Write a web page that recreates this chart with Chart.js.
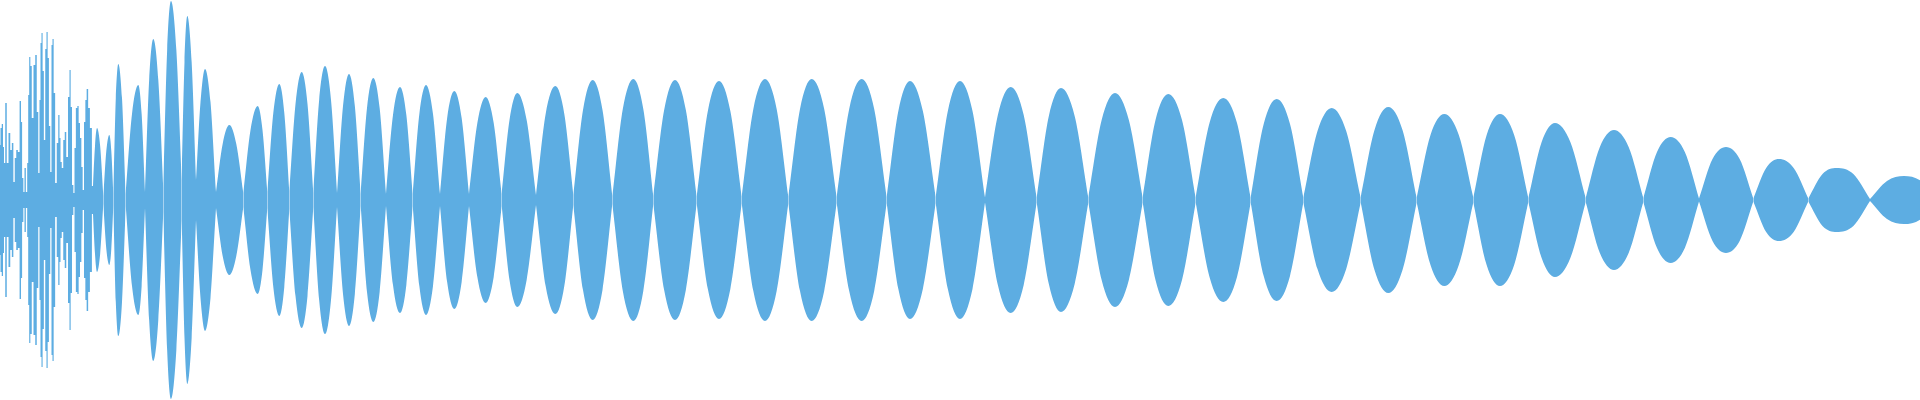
<!DOCTYPE html>
<html>
<head>
<meta charset="utf-8">
<script src="https://cdn.jsdelivr.net/npm/chart.js@4.4.1/dist/chart.umd.min.js"></script>
<style>
  html, body { margin: 0; padding: 0; background: #fff; }
  #wave { display: block; }
</style>
</head>
<body>
<canvas id="wave" width="1920" height="400"></canvas>
<script>
// noisy start of the signal (sample position, amplitude)
const spikeX = [0, 1, 2.5, 3.5, 4.5, 6, 7.5, 9.5, 11, 12.7, 14, 15.5, 17, 18.7, 20.5, 21.5, 22.7, 24, 25, 26.7,
    27.7, 28.7, 29.7, 31, 32.5, 34.5, 36, 37.5, 39, 40, 41, 42, 43.2, 44.5, 46, 47, 48.3, 49.5, 51, 52,
    53, 54.3, 56, 57.5, 59, 60, 61, 62.5, 64, 65.5, 67, 69, 70, 71.3, 72.7, 74, 75, 76.7, 78, 79.3,
    80.7, 82, 83.3, 84.7, 86, 87.3, 89, 90.8, 93];
const spikeAmp = [0.275, 0.36, 0.38, 0.265, 0.185, 0.485, 0.185, 0.335, 0.25, 0.285, 0.09, 0.21, 0.25, 0.24, 0.495, 0.39, 0.11, 0.04, 0.16, 0.04,
    0.185, 0.525, 0.715, 0.67, 0.41, 0.675, 0.725, 0.44, 0.135, 0.5, 0.785, 0.835, 0.645, 0.3, 0.755, 0.84, 0.71, 0.37, 0.14, 0.775,
    0.805, 0.535, 0.085, 0.285, 0.425, 0.31, 0.19, 0.16, 0.3, 0.34, 0.215, 0.515, 0.65, 0.465, 0.075, 0.035, 0.26, 0.46, 0.47, 0.385,
    0.31, 0.165, 0.05, 0.39, 0.5, 0.555, 0.46, 0.36, 0.07];

// beating part: zero crossings, neck width at each crossing
const crossX = [93, 103.3, 113.3, 125.7, 145, 163.3, 181.7, 196, 216, 243.3,
    267.3, 289.3, 313.3, 337, 360.7, 386, 412.7, 440, 469, 501.7,
    536, 573.3, 612.3, 653.3, 696.7, 741.7, 788.3, 836.7, 886.7, 935.7,
    985, 1036.7, 1088.3, 1142.7, 1195.7, 1250.7, 1303.3, 1360.7, 1416.7, 1473.3,
    1528.3, 1585.7, 1643.3, 1699, 1753.3, 1808.3, 1870, 1938];
const neckAmp = [0.07, 0.02, 0.03, 0.03, 0.04, 0.06, 0.1, 0.1, 0.04, 0.035,
    0.04, 0.045, 0.035, 0.035, 0.03, 0.03, 0.03, 0.03, 0.03, 0.03,
    0.025, 0.025, 0.02, 0.02, 0.017, 0.017, 0.017, 0.015, 0.015, 0.015,
    0.013, 0.013, 0.013, 0.013, 0.013, 0.013, 0.012, 0.012, 0.012, 0.012,
    0.01, 0.01, 0.01, 0.008, 0.008, 0.008, 0.005, 0];
// lobe peaks
const peakX = [97, 109.3, 118.3, 138.3, 153.3, 171, 187.3, 205, 229.3, 257.7,
    279.3, 301.7, 325, 349, 373.3, 400, 426, 454.3, 485.7, 517.3,
    555.3, 592.7, 633.3, 675, 719, 765, 811.7, 861.7, 910, 960,
    1010.7, 1061, 1115, 1168.3, 1223.3, 1276.7, 1331.7, 1388.3, 1444.3, 1500,
    1555, 1614, 1670.7, 1726, 1779, 1836.7, 1904];
const peakAmp = [0.36, 0.325, 0.68, 0.575, 0.805, 0.995, 0.92, 0.655, 0.375, 0.47,
    0.58, 0.64, 0.67, 0.63, 0.61, 0.565, 0.575, 0.545, 0.515, 0.535,
    0.57, 0.6, 0.605, 0.6, 0.595, 0.605, 0.605, 0.605, 0.595, 0.595,
    0.565, 0.56, 0.535, 0.53, 0.51, 0.505, 0.46, 0.465, 0.43, 0.43,
    0.385, 0.35, 0.315, 0.265, 0.205, 0.16, 0.12];
// lobe flank height, read halfway between crossing and peak
const flankAmp = [0.27, 0.245, 0.51, 0.43, 0.6, 0.75, 0.69, 0.49, 0.28, 0.35,
    0.435, 0.48, 0.5, 0.47, 0.46, 0.425, 0.43, 0.41, 0.385, 0.4,
    0.43, 0.45, 0.455, 0.45, 0.445, 0.455, 0.455, 0.455, 0.445, 0.445,
    0.425, 0.42, 0.4, 0.4, 0.385, 0.38, 0.345, 0.35, 0.325, 0.325,
    0.29, 0.265, 0.24, 0.205, 0.16, 0.13, 0.095];

const waveColor = '#5DADE2';

// spikes drawn as columns
const spikeTop = spikeX.map((x, i) => ({ x: x, y: spikeAmp[i] }));
const spikeBottom = spikeX.map((x, i) => ({ x: x, y: -spikeAmp[i] }));

// each lobe is its own segment: crossing -> flank -> peak -> flank -> crossing,
// with a gap between lobes so every crossing stays a sharp pinch
const lobeTop = [];
peakX.forEach((px, i) => {
    const x0 = crossX[i], x1 = crossX[i + 1];
    if (i > 0) lobeTop.push({ x: x0, y: null });
    lobeTop.push({ x: x0, y: neckAmp[i] });
    lobeTop.push({ x: (x0 + px) / 2, y: flankAmp[i] });
    lobeTop.push({ x: px, y: peakAmp[i] });
    lobeTop.push({ x: (px + x1) / 2, y: flankAmp[i] });
    lobeTop.push({ x: x1, y: neckAmp[i + 1] });
});
const lobeBottom = lobeTop.map(p => ({ x: p.x, y: p.y === null ? null : -p.y }));

const area = {
    fill: 'origin',
    backgroundColor: waveColor,
    borderWidth: 0,
    pointRadius: 0,
    pointHoverRadius: 0
};

const waveConfig = {
    type: 'line',
    data: {
        datasets: [
            { ...area, label: 'top', data: spikeTop, stepped: 'middle' },
            { ...area, label: 'bottom', data: spikeBottom, stepped: 'middle' },
            { ...area, label: 'top', data: lobeTop, cubicInterpolationMode: 'monotone', spanGaps: false },
            { ...area, label: 'bottom', data: lobeBottom, cubicInterpolationMode: 'monotone', spanGaps: false }
        ]
    },
    options: {
        responsive: false,
        animation: false,
        layout: { padding: 0 },
        scales: {
            x: { type: 'linear', min: 0, max: 1920, display: false },
            y: { min: -1, max: 1, display: false }
        },
        plugins: {
            legend: { display: false },
            tooltip: { enabled: false }
        }
    }
};

const waveChart = new Chart(document.querySelector('#wave'), waveConfig);
</script>
</body>
</html>
